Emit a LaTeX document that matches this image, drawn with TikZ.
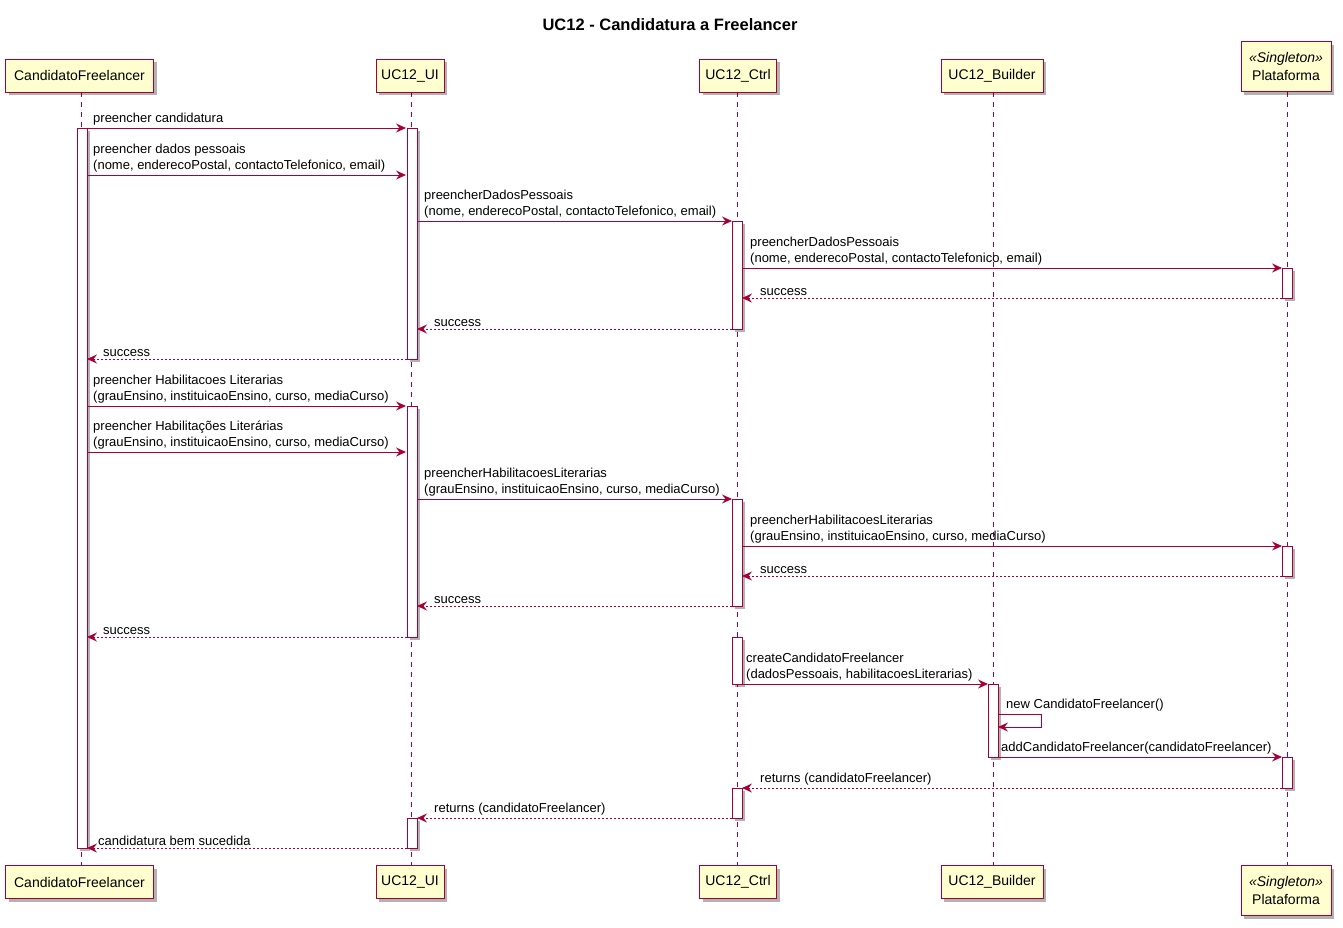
\documentclass[tikz,border=0pt]{standalone}
\usepackage{fontspec}
\setmainfont{Liberation Sans}
\usetikzlibrary{arrows.meta,shadows}
\definecolor{pumlred}{HTML}{A80036}
\definecolor{pumlfill}{HTML}{FEFECE}
\tikzset{
  shad/.style={drop shadow={shadow xshift=3pt,shadow yshift=-3pt,opacity=0.3,fill=black}},
  part/.style={draw=pumlred,fill=pumlfill,line width=0.9pt,minimum height=33pt,inner xsep=0pt,
    font=\fontsize{14}{18}\selectfont,shad,align=center},
  life/.style={draw=pumlred,dash pattern=on 5pt off 5pt,line width=0.7pt},
  actbar/.style={draw=pumlred,fill=white,line width=0.9pt,shad},
  msg/.style={draw=pumlred,line width=0.9pt,-{Stealth[length=10pt,width=9pt,inset=3.5pt]}},
  ret/.style={msg,dash pattern=on 2pt off 2pt},
  lbl/.style={font=\fontsize{13}{16}\selectfont,inner sep=0pt,align=left,anchor=south west,yshift=-1.5pt},
}
\newcommand\actbox[3]{\path[actbar] (#1-5,#2) rectangle (#1+5,#3);}
\begin{document}
\begin{tikzpicture}[x=1pt,y=-1pt]
\useasboundingbox (0,0) rectangle (1343,927);
\node[font=\bfseries\fontsize{16.5}{20}\selectfont] (title) at (670,25) {UC12 - Candidatura a Freelancer};
% lifelines
\coordinate (candT) at (81,92);   \coordinate (candB) at (81,865);
\coordinate (uiT) at (411,92);    \coordinate (uiB) at (411,865);
\coordinate (ctrlT) at (737,92);  \coordinate (ctrlB) at (737,865);
\coordinate (bldT) at (993,92);   \coordinate (bldB) at (993,865);
\coordinate (platT) at (1287,92); \coordinate (platB) at (1287,865);
\draw[life] (candT) -- (candB);
\draw[life] (uiT) -- (uiB);
\draw[life] (ctrlT) -- (ctrlB);
\draw[life] (bldT) -- (bldB);
\draw[life] (platT) -- (platB);
% participants
\node[part,minimum width=148pt] (cand) at (79.5,75.5) {CandidatoFreelancer};
\node[part,minimum width=68pt] (ui) at (410,75.5) {UC12\_UI};
\node[part,minimum width=77pt] (ctrl) at (738,75.5) {UC12\_Ctrl};
\node[part,minimum width=102pt] (bld) at (992,75.5) {UC12\_Builder};
\node[part,minimum width=90pt,minimum height=50pt] (plat) at (1286,66.5) {\textit{«Singleton»}\\Plataforma};
\node[part,minimum width=148pt] (cand2) at (79.5,882) {CandidatoFreelancer};
\node[part,minimum width=68pt] (ui2) at (410,882) {UC12\_UI};
\node[part,minimum width=77pt] (ctrl2) at (738,882) {UC12\_Ctrl};
\node[part,minimum width=102pt] (bld2) at (992,882) {UC12\_Builder};
\node[part,minimum width=90pt,minimum height=50pt] (plat2) at (1286,890.5) {\textit{«Singleton»}\\Plataforma};
% activation bars
\actbox{82}{128}{848}
\actbox{412}{128}{359}
\actbox{412}{406}{637}
\actbox{412}{818}{848}
\actbox{737}{221}{329}
\actbox{737}{499}{606}
\actbox{737}{637}{684}
\actbox{737}{788}{818}
\actbox{993}{684}{757}
\actbox{1287}{268}{298}
\actbox{1287}{546}{576}
\actbox{1287}{757}{788}
% messages
\coordinate (m1a) at (87,128); \coordinate (m1b) at (406,128);
\draw[msg] (m1a) -- (m1b);
\node[lbl] (l1) at (93,124) {preencher candidatura};
\coordinate (m2a) at (87,175); \coordinate (m2b) at (406,175);
\draw[msg] (m2a) -- (m2b);
\node[lbl] (l2) at (93,171) {preencher dados pessoais\\(nome, enderecoPostal, contactoTelefonico, email)};
\coordinate (m3a) at (417,221); \coordinate (m3b) at (732,221);
\draw[msg] (m3a) -- (m3b);
\node[lbl] (l3) at (424,217) {preencherDadosPessoais\\(nome, enderecoPostal, contactoTelefonico, email)};
\coordinate (m4a) at (742,268); \coordinate (m4b) at (1282,268);
\draw[msg] (m4a) -- (m4b);
\node[lbl] (l4) at (750,264) {preencherDadosPessoais\\(nome, enderecoPostal, contactoTelefonico, email)};
\coordinate (m5a) at (1282,298); \coordinate (m5b) at (742,298);
\draw[ret] (m5a) -- (m5b);
\node[lbl] (l5) at (760,294) {success};
\coordinate (m6a) at (732,329); \coordinate (m6b) at (417,329);
\draw[ret] (m6a) -- (m6b);
\node[lbl] (l6) at (434,325) {success};
\coordinate (m7a) at (407,359); \coordinate (m7b) at (87,359);
\draw[ret] (m7a) -- (m7b);
\node[lbl] (l7) at (103,355) {success};
\coordinate (m8a) at (87,406); \coordinate (m8b) at (406,406);
\draw[msg] (m8a) -- (m8b);
\node[lbl] (l8) at (93,402) {preencher Habilitacoes Literarias\\(grauEnsino, instituicaoEnsino, curso, mediaCurso)};
\coordinate (m9a) at (87,452); \coordinate (m9b) at (406,452);
\draw[msg] (m9a) -- (m9b);
\node[lbl] (l9) at (93,448) {preencher Habilitações Literárias\\(grauEnsino, instituicaoEnsino, curso, mediaCurso)};
\coordinate (m10a) at (417,499); \coordinate (m10b) at (732,499);
\draw[msg] (m10a) -- (m10b);
\node[lbl] (l10) at (424,495) {preencherHabilitacoesLiterarias\\(grauEnsino, instituicaoEnsino, curso, mediaCurso)};
\coordinate (m11a) at (742,546); \coordinate (m11b) at (1282,546);
\draw[msg] (m11a) -- (m11b);
\node[lbl] (l11) at (750,542) {preencherHabilitacoesLiterarias\\(grauEnsino, instituicaoEnsino, curso, mediaCurso)};
\coordinate (m12a) at (1282,576); \coordinate (m12b) at (742,576);
\draw[ret] (m12a) -- (m12b);
\node[lbl] (l12) at (760,572) {success};
\coordinate (m13a) at (732,606); \coordinate (m13b) at (417,606);
\draw[ret] (m13a) -- (m13b);
\node[lbl] (l13) at (434,602) {success};
\coordinate (m14a) at (407,637); \coordinate (m14b) at (87,637);
\draw[ret] (m14a) -- (m14b);
\node[lbl] (l14) at (103,633) {success};
\coordinate (m15a) at (742,684); \coordinate (m15b) at (988,684);
\draw[msg] (m15a) -- (m15b);
\node[lbl] (l15) at (746,680) {createCandidatoFreelancer\\(dadosPessoais, habilitacoesLiterarias)};
\coordinate (m16a) at (998,714); \coordinate (m16c) at (1041,727); \coordinate (m16b) at (998,727);
\draw[msg] (m16a) -| (m16c) -- (m16b);
\node[lbl] (l16) at (1006,710) {new CandidatoFreelancer()};
\coordinate (m17a) at (998,757); \coordinate (m17b) at (1282,757);
\draw[msg] (m17a) -- (m17b);
\node[lbl] (l17) at (1001,753) {addCandidatoFreelancer(candidatoFreelancer)};
\coordinate (m18a) at (1282,788); \coordinate (m18b) at (742,788);
\draw[ret] (m18a) -- (m18b);
\node[lbl] (l18) at (760,784) {returns (candidatoFreelancer)};
\coordinate (m19a) at (732,818); \coordinate (m19b) at (417,818);
\draw[ret] (m19a) -- (m19b);
\node[lbl] (l19) at (434,814) {returns (candidatoFreelancer)};
\coordinate (m20a) at (407,848); \coordinate (m20b) at (87,848);
\draw[ret] (m20a) -- (m20b);
\node[lbl] (l20) at (98,844) {candidatura bem sucedida};
\end{tikzpicture}
\end{document}
